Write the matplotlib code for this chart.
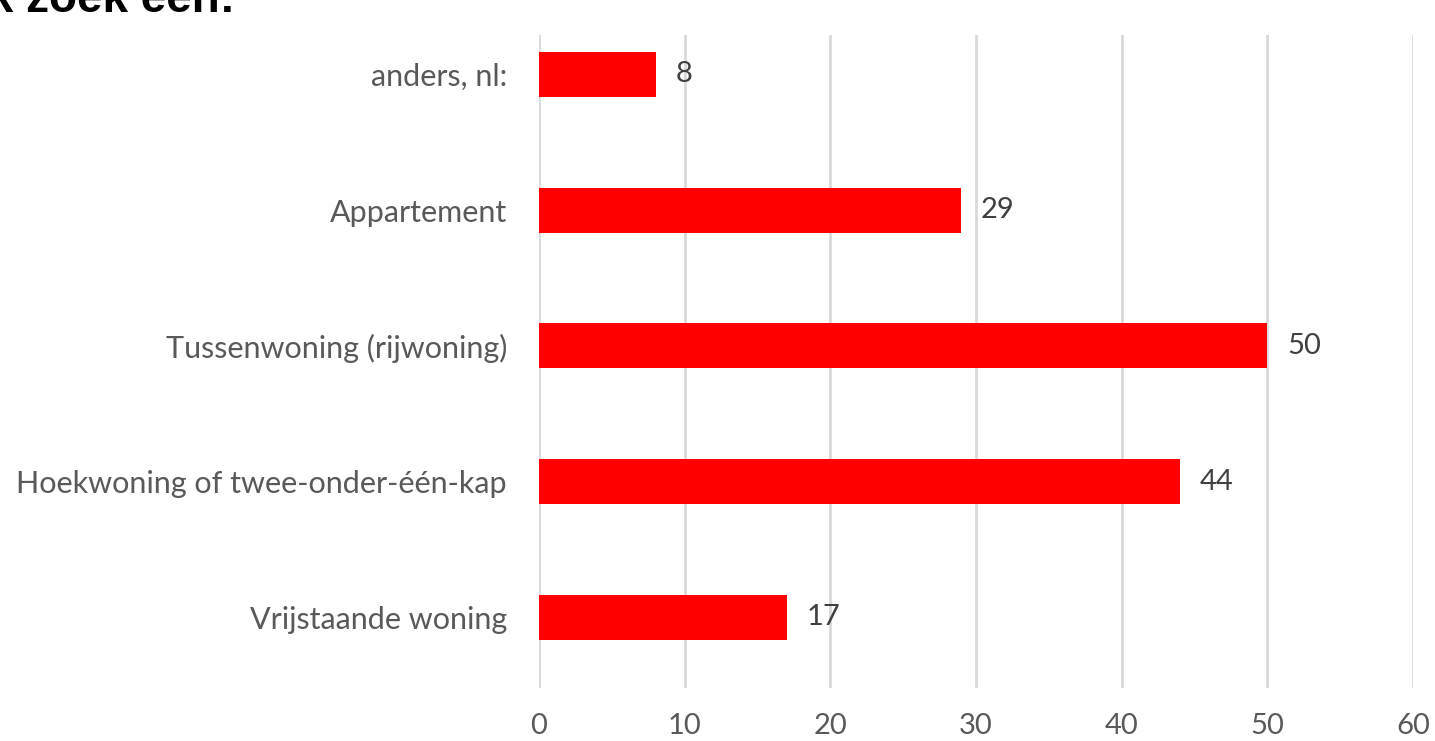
import matplotlib.pyplot as plt

categories = ["Vrijstaande woning", "Hoekwoning of twee-onder-één-kap",
              "Tussenwoning (rijwoning)", "Appartement", "anders, nl:"]
values = [17, 44, 50, 29, 8]
xticks = [0, 10, 20, 30, 40, 50, 60]

plt.rcParams['font.family'] = ['Lato', 'DejaVu Sans']

fig = plt.figure(figsize=(14.35, 7.41), dpi=100)
ax = fig.add_axes([539 / 1435, 1 - 688 / 741, (1413 - 539) / 1435, (688 - 35) / 741])

y = range(len(categories))
bars = ax.barh(y, values, height=0.33, color="#ff0000", zorder=3)
for b, v in zip(bars, values):
    ax.text(v + 1.35, b.get_y() + b.get_height() / 2, str(v),
            va="center", ha="left", fontsize=21, color="#404040")

ax.set_xlim(0, 60)
ax.set_ylim(-0.52, 4.29)
ax.set_xticks(xticks)
ax.set_xticklabels([str(t) for t in xticks], fontsize=21, color="#595959")
ax.set_yticks(list(y))
ax.set_yticklabels(categories, fontsize=22, color="#595959")
ax.tick_params(axis="both", length=0)
ax.tick_params(axis="x", pad=18)
ax.tick_params(axis="y", pad=23)
ax.grid(axis="x", color="#d9d9d9", linewidth=2, zorder=0)
for s in ax.spines.values():
    s.set_visible(False)

fig.text(-25 / 1435, 1 - 12 / 741, "Ik zoek een:", fontsize=33, fontweight="bold",
         family=["Liberation Sans", "DejaVu Sans"], ha="left", va="baseline", color="black")

fig.savefig("out.png", dpi=100)
